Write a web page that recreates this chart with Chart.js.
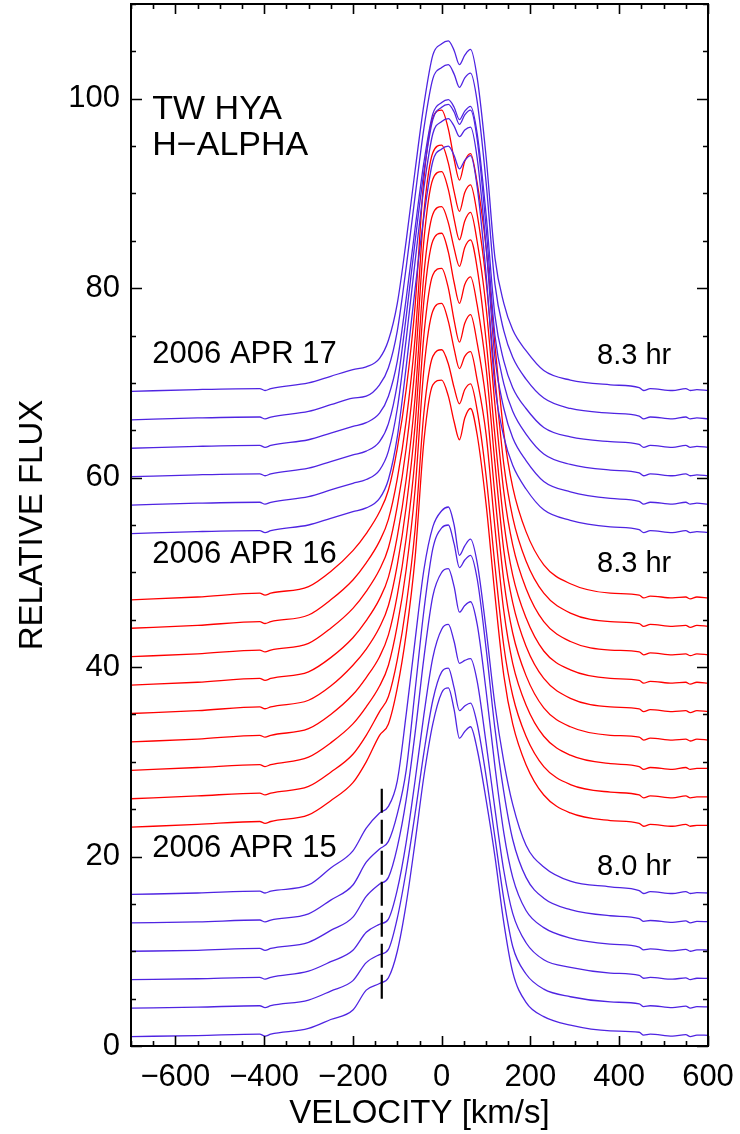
<!DOCTYPE html>
<html lang="en">
<head>
<meta charset="UTF-8">
<title>TW HYA H-ALPHA</title>
<script src="https://cdn.jsdelivr.net/npm/chart.js"></script>
<style>
  body { margin: 0; background: #fff; }
  #wrap { width: 740px; height: 1134px; }
</style>
</head>
<body>
<div id="wrap"><canvas id="spec" width="740" height="1134"></canvas></div>
<script>
// velocity grid shared by every spectrum (km/s)
const velocity = [-700, -550, -410, -398, -385, -300, -250, -200, -170, -140, -120, -100, -80, -60, -40, -20, 0, 15, 28, 40,
                  52, 65, 80, 100, 120, 140, 160, 190, 230, 290, 380, 445, 455, 470, 520, 550, 560, 575, 600];

// offset spectra as plotted, bottom exposure first
const apr15Flux = [
  [1.0, 1.1, 1.25, 1.05, 1.25, 1.85, 2.8, 3.8, 5.9, 6.6, 7.2, 10.0, 15.0, 21.5, 28.5, 34.0, 37.3, 37.8, 35.5, 32.5, 33.2, 33.7, 31.3, 26.0, 20.0, 13.0, 7.8, 4.6, 3.1, 2.2, 1.6, 1.45, 1.15, 1.25, 1.05, 1.2, 1.0, 1.15, 1.13],
  [4.0, 4.1, 4.25, 4.05, 4.25, 4.85, 5.8, 6.9, 8.8, 9.65, 10.2, 13.5, 18.5, 24.5, 31.0, 36.5, 39.5, 39.9, 37.8, 35.4, 35.9, 36.2, 34.0, 28.5, 22.0, 15.5, 10.5, 7.6, 6.0, 5.2, 4.65, 4.45, 4.15, 4.25, 4.05, 4.2, 4.0, 4.15, 4.13],
  [7.0, 7.1, 7.25, 7.05, 7.25, 7.9, 8.9, 10.1, 12.0, 12.85, 13.4, 16.5, 21.5, 28.0, 35.0, 41.0, 44.0, 44.5, 42.7, 40.4, 40.7, 40.9, 38.5, 32.0, 25.0, 18.5, 14.0, 10.9, 9.1, 8.3, 7.7, 7.45, 7.15, 7.25, 7.05, 7.2, 7.0, 7.15, 7.13],
  [10.0, 10.1, 10.3, 10.1, 10.3, 10.95, 12.2, 13.6, 15.8, 17.1, 17.8, 21.0, 26.0, 33.0, 41.0, 47.5, 50.0, 50.4, 48.5, 45.8, 46.5, 46.9, 44.5, 37.5, 29.5, 22.5, 17.8, 14.3, 12.5, 11.4, 10.75, 10.45, 10.15, 10.25, 10.05, 10.2, 10.0, 10.15, 10.13],
  [13.0, 13.1, 13.3, 13.1, 13.3, 13.95, 15.4, 17.0, 19.4, 20.8, 21.6, 24.5, 29.1, 37.5, 46.0, 52.5, 54.7, 55.0, 53.0, 50.5, 51.3, 51.8, 49.3, 42.0, 33.5, 26.8, 21.8, 17.8, 15.6, 14.4, 13.75, 13.45, 13.15, 13.25, 13.05, 13.2, 13.0, 13.15, 13.13],
  [16.0, 16.15, 16.35, 16.15, 16.35, 17.0, 18.8, 20.6, 23.0, 24.6, 25.3, 28.0, 35.0, 42.8, 50.3, 54.8, 56.5, 56.9, 55.0, 51.8, 52.8, 53.5, 51.0, 44.0, 36.0, 30.0, 25.5, 21.2, 18.9, 17.4, 16.8, 16.4, 16.1, 16.3, 16.1, 16.3, 16.1, 16.2, 16.15]
];

const apr16Flux = [
  [23.1, 23.4, 23.7, 23.5, 23.7, 24.4, 25.9, 27.8, 30.0, 32.8, 34.0, 37.8, 43.5, 51.5, 63.9, 69.8, 70.3, 68.6, 65.9, 64.0, 66.3, 67.3, 64.5, 57.2, 47.6, 39.1, 34.0, 29.7, 26.5, 24.6, 23.8, 23.5, 23.2, 23.4, 23.2, 23.4, 23.2, 23.3, 23.3],
  [26.1, 26.4, 26.7, 26.5, 26.7, 27.4, 28.9, 30.8, 32.8, 35.3, 36.9, 40.8, 46.5, 54.5, 66.9, 72.8, 73.5, 72.0, 69.5, 67.8, 69.3, 69.9, 67.1, 60.2, 50.7, 42.2, 37.0, 32.7, 29.5, 27.6, 26.8, 26.5, 26.2, 26.4, 26.2, 26.4, 26.2, 26.3, 26.3],
  [29.1, 29.4, 29.7, 29.5, 29.7, 30.5, 32.0, 34.0, 35.8, 38.0, 40.2, 44.4, 50.3, 58.7, 71.5, 77.6, 78.4, 76.5, 73.6, 71.5, 72.8, 73.3, 70.3, 64.6, 54.7, 45.9, 40.4, 36.0, 32.7, 30.7, 29.8, 29.5, 29.2, 29.4, 29.2, 29.4, 29.2, 29.3, 29.3],
  [32.1, 32.4, 32.8, 32.6, 32.8, 33.5, 35.0, 37.1, 38.9, 41.1, 43.4, 47.6, 53.6, 62.1, 75.1, 81.4, 82.1, 80.0, 76.6, 74.3, 76.3, 77.2, 74.2, 68.1, 58.1, 49.1, 43.6, 39.1, 35.7, 33.7, 32.8, 32.6, 32.3, 32.5, 32.3, 32.4, 32.2, 32.4, 32.3],
  [35.1, 35.4, 35.8, 35.6, 35.8, 36.5, 38.0, 40.2, 41.9, 44.2, 46.5, 50.8, 56.9, 65.5, 78.7, 85.0, 85.8, 83.8, 80.6, 78.4, 80.4, 81.2, 78.2, 71.6, 61.5, 52.3, 46.8, 42.2, 38.8, 36.7, 35.8, 35.6, 35.3, 35.5, 35.3, 35.4, 35.2, 35.4, 35.3],
  [38.1, 38.4, 38.8, 38.6, 38.8, 39.5, 41.0, 43.1, 44.9, 47.2, 49.5, 53.8, 59.8, 68.4, 81.5, 87.8, 88.6, 86.9, 84.2, 82.3, 84.3, 85.1, 82.1, 74.5, 64.4, 55.3, 49.7, 45.2, 41.7, 39.7, 38.8, 38.6, 38.3, 38.5, 38.3, 38.4, 38.2, 38.4, 38.3],
  [41.1, 41.4, 41.8, 41.6, 41.8, 42.5, 44.1, 46.2, 48.0, 50.3, 52.6, 57.0, 63.1, 71.8, 85.1, 91.5, 92.3, 90.4, 87.3, 85.1, 87.1, 88.0, 84.9, 78.0, 67.7, 58.5, 52.9, 48.3, 44.8, 42.7, 41.8, 41.6, 41.3, 41.5, 41.3, 41.4, 41.2, 41.4, 41.3],
  [44.1, 44.4, 44.8, 44.6, 44.8, 45.5, 47.1, 49.2, 51.0, 53.3, 55.6, 59.9, 66.0, 74.7, 88.0, 94.3, 95.1, 93.2, 90.2, 88.1, 90.1, 90.9, 87.8, 80.8, 70.6, 61.4, 55.8, 51.2, 47.8, 45.7, 44.8, 44.6, 44.3, 44.5, 44.3, 44.4, 44.2, 44.4, 44.3],
  [47.1, 47.4, 47.8, 47.6, 47.8, 48.5, 50.1, 52.3, 54.1, 56.4, 58.7, 63.1, 69.3, 78.1, 91.6, 98.0, 98.8, 96.8, 93.6, 91.4, 93.4, 94.2, 91.1, 84.3, 74.0, 64.7, 59.0, 54.3, 50.8, 48.8, 47.8, 47.6, 47.3, 47.5, 47.3, 47.4, 47.2, 47.4, 47.3]
];

const apr17Flux = [
  [54.1, 54.3, 54.4, 54.2, 54.4, 55.0, 55.7, 56.4, 56.8, 57.8, 59.8, 64.3, 71.7, 79.9, 87.6, 93.4, 94.7, 95.0, 94.0, 92.6, 93.5, 94.0, 90.7, 81.5, 69.6, 64.3, 61.3, 58.8, 56.6, 55.5, 54.8, 54.5, 54.2, 54.4, 54.2, 54.4, 54.2, 54.3, 54.2],
  [57.1, 57.3, 57.4, 57.2, 57.4, 58.0, 58.7, 59.4, 59.8, 60.8, 62.8, 67.3, 74.6, 82.8, 90.6, 96.3, 97.6, 97.9, 97.1, 96.0, 96.7, 97.0, 93.7, 84.4, 72.6, 67.3, 64.2, 61.8, 59.6, 58.5, 57.8, 57.5, 57.2, 57.4, 57.2, 57.4, 57.2, 57.3, 57.2],
  [60.1, 60.3, 60.4, 60.2, 60.4, 61.0, 61.7, 62.4, 62.8, 63.8, 65.7, 69.9, 77.0, 84.9, 92.3, 97.8, 99.1, 99.4, 98.6, 97.3, 98.3, 98.8, 95.7, 86.4, 75.0, 69.9, 67.0, 64.6, 62.5, 61.4, 60.8, 60.5, 60.2, 60.4, 60.2, 60.4, 60.2, 60.3, 60.2],
  [63.1, 63.3, 63.4, 63.2, 63.4, 64.0, 64.7, 65.4, 65.8, 66.8, 68.6, 72.3, 78.9, 86.3, 93.3, 98.4, 99.6, 99.9, 99.1, 97.8, 98.7, 99.2, 96.3, 87.8, 77.1, 72.3, 69.5, 67.3, 65.3, 64.3, 63.8, 63.5, 63.2, 63.4, 63.2, 63.4, 63.2, 63.3, 63.2],
  [66.1, 66.3, 66.4, 66.2, 66.4, 67.0, 67.7, 68.4, 68.6, 69.8, 71.6, 75.5, 82.2, 89.7, 96.9, 102.1, 103.3, 103.6, 102.6, 101.2, 102.2, 102.7, 99.7, 91.2, 80.4, 75.5, 72.7, 70.4, 68.4, 67.3, 66.8, 66.5, 66.2, 66.4, 66.2, 66.4, 66.2, 66.3, 66.2],
  [69.1, 69.3, 69.4, 69.2, 69.4, 70.0, 70.7, 71.4, 71.7, 72.6, 74.5, 78.4, 85.0, 92.4, 99.4, 104.6, 105.8, 106.1, 105.1, 103.6, 104.6, 105.2, 102.2, 93.9, 83.2, 78.4, 75.6, 73.4, 71.3, 70.3, 69.8, 69.5, 69.2, 69.4, 69.2, 69.4, 69.2, 69.3, 69.2]
];

const xTicks = [-600, -400, -200, 0, 200, 400, 600];
const yTicks = [0, 20, 40, 60, 80, 100];

// dashed marker on the Apr 15 blue wing
const dashVelocity = -135;
const dashFlux = [5.0, 27.3];

const nightLabels = ['2006 APR 17', '2006 APR 16', '2006 APR 15'];
const spanLabels = ['8.3 hr', '8.3 hr', '8.0 hr'];

const FONT = '"Liberation Sans", Arial, Helvetica, sans-serif';
const BLUE = '#4f24e2';
const RED = '#ff0000';

function spectra(rows, color, order) {
  return rows.map(row => ({
    data: row.map((f, i) => ({ x: velocity[i], y: f })),
    borderColor: color,
    borderWidth: 1.3,
    pointRadius: 0,
    fill: false,
    cubicInterpolationMode: 'monotone',
    order: order
  }));
}

const datasets = [
  ...spectra(apr15Flux, BLUE, 3),
  ...spectra(apr16Flux, RED, 2),
  ...spectra(apr17Flux, BLUE, 1),
  {
    data: dashFlux.map(f => ({ x: dashVelocity, y: f })),
    borderColor: '#000',
    borderWidth: 2.2,
    borderDash: [24, 7],
    pointRadius: 0,
    fill: false,
    order: 0
  }
];

// box, inward ticks, annotations and axis titles
const framePlugin = {
  id: 'frame',
  afterDraw(chart) {
    const { ctx, chartArea: a } = chart;
    const x = chart.scales.x, y = chart.scales.y;
    ctx.save();
    ctx.strokeStyle = '#000';
    ctx.lineWidth = 1.6;
    ctx.beginPath();
    for (let v = -700; v <= 600; v += 50) {
      const px = Math.round(x.getPixelForValue(v)) + 0.5;
      const len = v % 200 === 0 ? 10 : 5;
      ctx.moveTo(px, a.bottom); ctx.lineTo(px, a.bottom - len);
      ctx.moveTo(px, a.top); ctx.lineTo(px, a.top + len);
    }
    for (let v = 0; v <= 110; v += 5) {
      const py = Math.round(y.getPixelForValue(v)) + 0.5;
      const len = v % 20 === 0 ? 11 : 5;
      ctx.moveTo(a.left, py); ctx.lineTo(a.left + len, py);
      ctx.moveTo(a.right, py); ctx.lineTo(a.right - len, py);
    }
    ctx.stroke();
    ctx.lineWidth = 2;
    ctx.strokeRect(a.left, a.top, a.right - a.left, a.bottom - a.top);

    ctx.fillStyle = '#000';
    ctx.textAlign = 'left';
    ctx.textBaseline = 'alphabetic';
    const lx = x.getPixelForValue(-652);
    ctx.font = '34px ' + FONT;
    ctx.fillText('TW HYA', lx, y.getPixelForValue(97.9));
    ctx.fillText('H\u2212ALPHA', lx, y.getPixelForValue(94.05));
    ctx.font = '31px ' + FONT;
    const nightY = [72.06, 51.0, 19.96];
    nightLabels.forEach((t, i) => ctx.fillText(t, lx, y.getPixelForValue(nightY[i])));
    ctx.font = '29px ' + FONT;
    const spanY = [71.98, 50.0, 18.0];
    spanLabels.forEach((t, i) => ctx.fillText(t, x.getPixelForValue(350), y.getPixelForValue(spanY[i])));

    ctx.font = '33px ' + FONT;
    ctx.textAlign = 'center';
    ctx.fillText('VELOCITY [km/s]', (a.left + a.right) / 2, 1123);
    ctx.translate(42, (a.top + a.bottom) / 2);
    ctx.rotate(-Math.PI / 2);
    ctx.fillText('RELATIVE FLUX', 0, 0);
    ctx.restore();
  }
};

new Chart(document.getElementById('spec'), {
  type: 'line',
  data: { datasets: datasets },
  options: {
    responsive: false,
    animation: false,
    layout: { padding: { top: 4, right: 32, left: 0, bottom: 0 } },
    plugins: { legend: { display: false }, tooltip: { enabled: false } },
    scales: {
      x: {
        type: 'linear',
        min: -700,
        max: 600,
        grid: { display: false, drawTicks: false },
        border: { display: false },
        afterBuildTicks: s => { s.ticks = xTicks.map(v => ({ value: v })); },
        afterFit: s => { s.height = 88; s.paddingLeft = 0; s.paddingRight = 0; },
        ticks: {
          autoSkip: false,
          maxRotation: 0,
          padding: 13,
          color: '#000',
          font: { family: FONT, size: 31 },
          callback: v => String(v).replace('-', '\u2212')
        }
      },
      y: {
        type: 'linear',
        min: 0,
        max: 110,
        grid: { display: false, drawTicks: false },
        border: { display: false },
        afterBuildTicks: s => { s.ticks = yTicks.map(v => ({ value: v })); },
        afterFit: s => { s.width = 131; s.paddingTop = 0; s.paddingBottom = 0; },
        ticks: {
          autoSkip: false,
          padding: 11,
          color: '#000',
          font: { family: FONT, size: 31 }
        }
      }
    }
  },
  plugins: [framePlugin]
});
</script>
</body>
</html>
